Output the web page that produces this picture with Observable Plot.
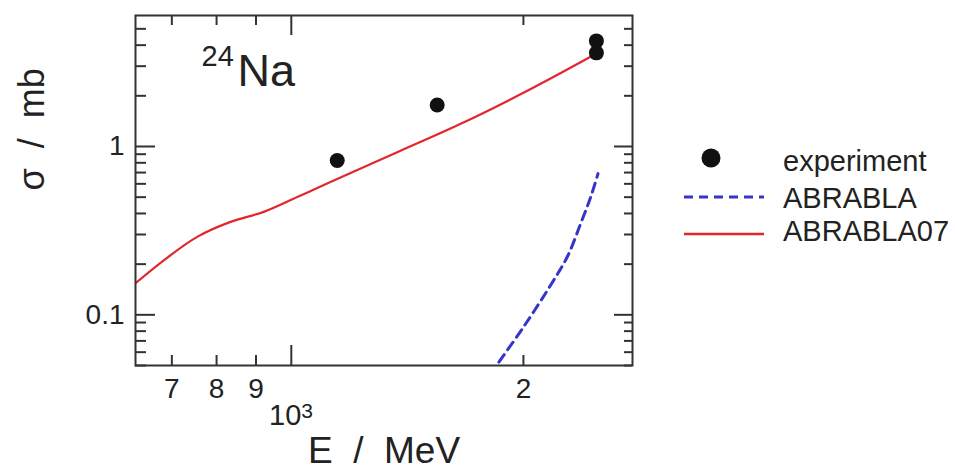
<!DOCTYPE html>
<html>
<head>
<meta charset="utf-8">
<script src="https://cdn.jsdelivr.net/npm/d3@7"></script>
<script src="https://cdn.jsdelivr.net/npm/@observablehq/plot@0.6"></script>
<style>
  html, body { margin: 0; padding: 0; background: #fff; }
  #wrap { position: relative; width: 955px; height: 472px; overflow: hidden; }
  #legend { position: absolute; left: 0; top: 0; }
  svg text { white-space: pre; }
</style>
</head>
<body>
<div id="wrap"></div>
<script>
// ---- data ----
const expEnergy = [1147, 1546, 2487, 2487];
const expSigma  = [0.826, 1.765, 4.24, 3.60];

const abrabla07Energy = [628, 684, 755, 834, 921, 1018, 1124, 1372, 1675, 2044, 2481];
const abrabla07Sigma  = [0.154, 0.2115, 0.2905, 0.3565, 0.409, 0.501, 0.615, 0.925, 1.393, 2.194, 3.54];

const abrablaEnergy = [1813, 1849, 2003, 2170, 2280, 2373, 2445, 2499];
const abrablaSigma  = [0.0444, 0.0506, 0.0853, 0.1505, 0.2213, 0.3488, 0.501, 0.690];

const yMajorTicks = [0.1, 1];
const yMajorLabels = ["0.1", "1"];
const yMinorTicks = [0.05, 0.06, 0.07, 0.08, 0.09, 0.2, 0.3, 0.4, 0.5, 0.6, 0.7, 0.8, 0.9, 2, 3, 4, 5];
const xMajorTicks = [1000];
const xMinorTicks = [700, 800, 900, 2000];
const xMinorLabels = ["7", "8", "9", "2"];
const xMajorBase = ["10"];
const xMajorExp = ["3"];

const seriesNames = ["experiment", "ABRABLA", "ABRABLA07"];

// ---- build tables ----
const expData = expEnergy.map((e, i) => ({E: e, s: expSigma[i]}));
const a07Data = abrabla07Energy.map((e, i) => ({E: e, s: abrabla07Sigma[i]}));
const aData = abrablaEnergy.map((e, i) => ({E: e, s: abrablaSigma[i]}));

const W = 955, H = 472;
const mL = 135, mR = 323, mT = 15, mB = 107;
const plotW = W - mL - mR, plotH = H - mT - mB;
const majorLen = 20, minorLen = 11;
const axisColor = "#333";
const font = "'Liberation Sans', Arial, sans-serif";
const red = "#e3262e", blue = "#3535c8";
const ink = "#222";

const chart = Plot.plot({
  width: W,
  height: H,
  marginLeft: mL, marginRight: mR, marginTop: mT, marginBottom: mB,
  style: {fontFamily: font, background: "transparent"},
  x: {type: "log", domain: [628, 2770], axis: null},
  y: {type: "log", domain: [0.05, 6], axis: null},
  marks: [
    // curves
    Plot.line(a07Data, {x: "E", y: "s", stroke: red, strokeWidth: 2.2, curve: "catmull-rom", clip: true}),
    Plot.line(aData, {x: "E", y: "s", stroke: blue, strokeWidth: 3, strokeDasharray: "9,6", curve: "catmull-rom", clip: true}),
    Plot.dot(expData, {x: "E", y: "s", r: 7.5, fill: "#111", stroke: "none"}),
    // frame
    Plot.frame({stroke: axisColor, strokeWidth: 2}),
    // y ticks left / right (inward)
    Plot.tickY(yMajorTicks, {y: d => d, insetRight: plotW - majorLen, stroke: axisColor, strokeWidth: 2}),
    Plot.tickY(yMinorTicks, {y: d => d, insetRight: plotW - minorLen, stroke: axisColor, strokeWidth: 2}),
    Plot.tickY(yMajorTicks, {y: d => d, insetLeft: plotW - 18, stroke: axisColor, strokeWidth: 2}),
    Plot.tickY(yMinorTicks, {y: d => d, insetLeft: plotW - 8, stroke: axisColor, strokeWidth: 2}),
    // x ticks bottom / top (inward)
    Plot.tickX(xMajorTicks, {x: d => d, insetTop: plotH - majorLen, stroke: axisColor, strokeWidth: 2}),
    Plot.tickX(xMinorTicks, {x: d => d, insetTop: plotH - 10, stroke: axisColor, strokeWidth: 2}),
    Plot.tickX(xMajorTicks, {x: d => d, insetBottom: plotH - majorLen, stroke: axisColor, strokeWidth: 2}),
    Plot.tickX(xMinorTicks, {x: d => d, insetBottom: plotH - 10, stroke: axisColor, strokeWidth: 2}),
    // tick labels
    Plot.text(yMajorTicks, {y: d => d, frameAnchor: "left", dx: -11, textAnchor: "end", lineAnchor: "middle", text: yMajorLabels, fontSize: 28, fill: ink}),
    Plot.text(xMinorTicks, {x: d => d, frameAnchor: "bottom", dy: 24, lineAnchor: "middle", text: xMinorLabels, fontSize: 28, fill: ink}),
    Plot.text(xMajorTicks, {x: d => d, frameAnchor: "bottom", dy: 59, dx: 10, textAnchor: "end", lineAnchor: "bottom", text: xMajorBase, fontSize: 29, fill: ink}),
    Plot.text(xMajorTicks, {x: d => d, frameAnchor: "bottom", dy: 52, dx: 10, textAnchor: "start", lineAnchor: "bottom", text: xMajorExp, fontSize: 21, fill: ink}),
    // axis titles
    Plot.text(["E  /  MeV"], {frameAnchor: "bottom", dy: 97, lineAnchor: "bottom", fontSize: 37, fill: ink}),
    Plot.text(["σ  /  mb"], {frameAnchor: "left", dx: -103, rotate: -90, lineAnchor: "middle", fontSize: 36, fill: ink}),
    // nucleus label
    Plot.text(["24"], {frameAnchor: "top-left", dx: 66, dy: 50, textAnchor: "start", lineAnchor: "bottom", fontSize: 29, fill: ink}),
    Plot.text(["Na"], {frameAnchor: "top-left", dx: 102, dy: 70, textAnchor: "start", lineAnchor: "bottom", fontSize: 45, fill: ink})
  ]
});

const wrap = document.getElementById("wrap");
wrap.appendChild(chart);

// ---- legend overlay ----
const lg = d3.select(wrap).append("svg")
  .attr("id", "legend").attr("width", W).attr("height", H)
  .style("font-family", font);
const rows = [
  {name: seriesNames[0], y: 161, kind: "dot"},
  {name: seriesNames[1], y: 198, kind: "dash"},
  {name: seriesNames[2], y: 231, kind: "solid"}
];
rows.forEach(r => {
  if (r.kind === "dot") {
    lg.append("circle").attr("cx", 711).attr("cy", r.y - 3).attr("r", 9.5).attr("fill", "#111");
  } else {
    const ly = r.y + (r.kind === "solid" ? 3 : -1);
    lg.append("line").attr("x1", 684).attr("x2", 764).attr("y1", ly).attr("y2", ly)
      .attr("stroke", r.kind === "dash" ? blue : red)
      .attr("stroke-width", r.kind === "dash" ? 3 : 2.5)
      .attr("stroke-dasharray", r.kind === "dash" ? "9,6" : null);
  }
  lg.append("text").attr("x", 783).attr("y", r.y).attr("dy", "0.35em")
    .attr("font-size", 29).attr("fill", ink).text(r.name);
});
</script>
</body>
</html>
